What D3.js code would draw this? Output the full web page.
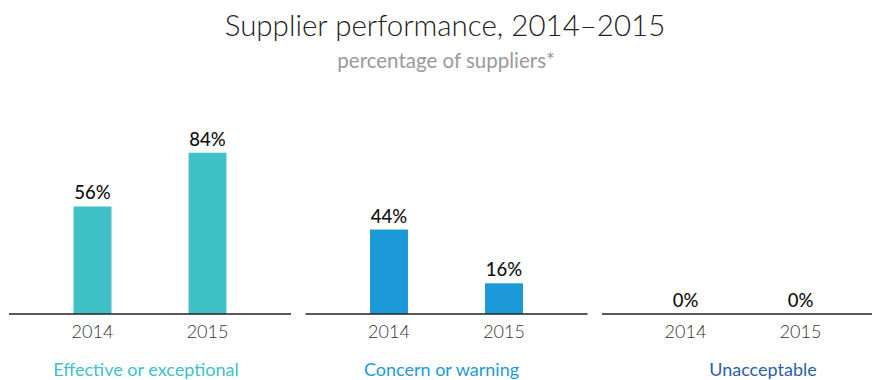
<!DOCTYPE html>
<html>
<head>
<meta charset="utf-8">
<script src="https://cdn.jsdelivr.net/npm/d3@7"></script>
<style>
  html, body { margin: 0; padding: 0; background: #fff; }
  svg { display: block; }
  text { font-family: Lato, "Noto Sans", sans-serif; }
</style>
</head>
<body>
<svg id="chart" width="872" height="380"></svg>
<script>
// Supplier performance ratings, share of suppliers per year
const categories = ["Effective or exceptional", "Concern or warning", "Unacceptable"];
const years = ["2014", "2015"];
const values2014 = [56, 44, 0];
const values2015 = [84, 16, 0];
const categoryColors = ["#40c1c8", "#1b9ad7", "#2b5fa8"];
const barColors = ["#40c1c8", "#1b9ad7", "#2b5fa8"];

const titleText = "Supplier performance, 2014\u20132015";
const subtitleText = "percentage of suppliers*";

const W = 872, H = 380;
const svg = d3.select("#chart");

const baselineY = 314;
const panelWidth = 282;

// one panel per category
const panelX = d3.scaleBand()
  .domain(categories)
  .range([9, 9 + 3 * 296.5])
  .paddingInner(0)
  .paddingOuter(0);

// two bars per panel
const barX = d3.scaleBand()
  .domain(years)
  .range([0, panelWidth])
  .paddingInner(0.67)
  .paddingOuter(0.561);

const y = d3.scaleLinear().domain([0, 100]).range([baselineY, baselineY - 192]);

// small label nudges per panel
const labelShift = [-4, -5, 20];

svg.append("text")
  .attr("x", 445).attr("y", 36)
  .attr("text-anchor", "middle")
  .attr("font-size", 29.5)
  .attr("font-weight", 300)
  .attr("fill", "#222")
  .text(titleText);

svg.append("text")
  .attr("x", 446).attr("y", 68)
  .attr("text-anchor", "middle")
  .attr("font-size", 20.5)
  .attr("font-weight", 400)
  .attr("fill", "#9a9a9a")
  .text(subtitleText);

categories.forEach((cat, i) => {
  const g = svg.append("g").attr("transform", `translate(${panelX(cat)},0)`);
  const rows = [
    { year: years[0], value: values2014[i] },
    { year: years[1], value: values2015[i] }
  ];

  g.selectAll("rect.bar")
    .data(rows)
    .join("rect")
    .attr("class", "bar")
    .attr("x", d => barX(d.year))
    .attr("width", barX.bandwidth())
    .attr("y", d => y(d.value))
    .attr("height", d => y(0) - y(d.value))
    .attr("fill", barColors[i]);

  g.selectAll("text.value")
    .data(rows)
    .join("text")
    .attr("class", "value")
    .attr("x", d => barX(d.year) + barX.bandwidth() / 2)
    .attr("y", d => y(d.value) - 7)
    .attr("text-anchor", "middle")
    .attr("font-size", 18.5)
    .attr("font-weight", 500)
    .attr("fill", "#111")
    .text(d => d.value + "%");

  // baseline with year tick labels
  const axis = d3.axisBottom(barX).tickSize(0).tickPadding(0);
  const ax = g.append("g")
    .attr("transform", `translate(0,${baselineY})`)
    .call(axis);
  ax.select(".domain")
    .attr("d", `M0,0H${panelWidth}`)
    .attr("stroke", "#222")
    .attr("stroke-width", 1.6);
  ax.selectAll(".tick text")
    .attr("dy", null)
    .attr("y", 24)
    .attr("font-size", 18)
    .attr("font-family", "Lato, sans-serif")
    .attr("font-weight", 300)
    .attr("fill", "#333");

  g.append("text")
    .attr("x", panelWidth / 2 + labelShift[i])
    .attr("y", 376)
    .attr("text-anchor", "middle")
    .attr("font-size", 18)
    .attr("font-weight", 400)
    .attr("fill", categoryColors[i])
    .text(cat);
});
</script>
</body>
</html>
